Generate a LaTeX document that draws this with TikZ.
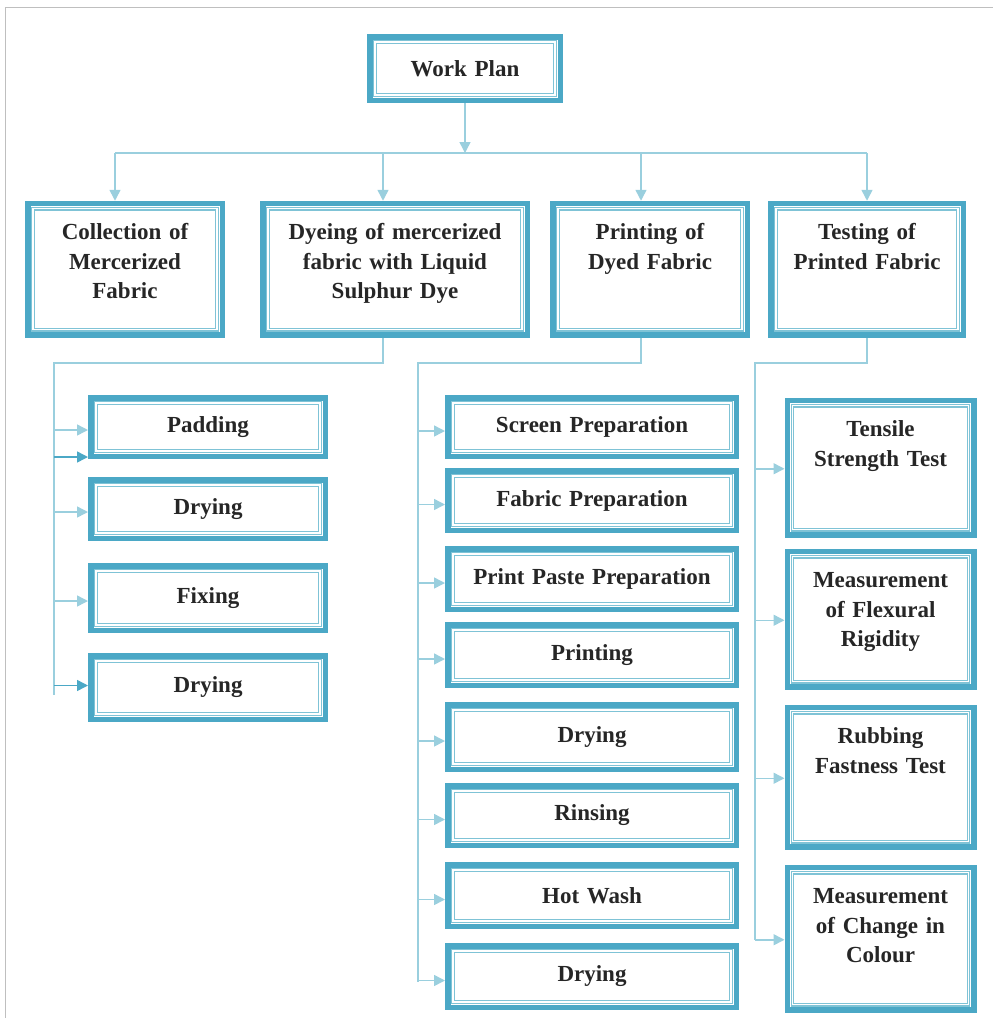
\documentclass[tikz,border=0pt]{standalone}
\usepackage{fontspec}
\setmainfont{Liberation Serif}
\usepackage{tikz}
\usetikzlibrary{arrows.meta,positioning}

\definecolor{boxteal}{HTML}{4BA8C6}
\definecolor{boxlight}{HTML}{7FC3D6}
\definecolor{linelight}{HTML}{9ACFDE}
\definecolor{linedark}{HTML}{4BA8C6}

\tikzset{
  box/.style={draw=boxteal, line width=5.5pt, fill=white, inner sep=0pt,
    align=center, text width=#1-5.5pt, text=black!85,
    font=\bfseries\fontsize{23}{29.5}\selectfont,
    path picture={\draw[boxlight, line width=1.2pt, double=white, double distance=1.3pt]
      ([shift={(5.2pt,-5.2pt)}]path picture bounding box.north west) rectangle
      ([shift={(-5.2pt,5.2pt)}]path picture bounding box.south east);}},
  single/.style={minimum height=#1-5.5pt},
  tallbox/.style 2 args={box=#1, anchor=north, yshift=-2.75pt,
    text height=36.25pt, text depth=#2},
  conn/.style={draw=linelight, line width=1.5pt},
  arr/.style={conn, -{Triangle[length=11pt,width=11pt]}},
  arrdark/.style={arr, draw=linedark}
}

\begin{document}
\begin{tikzpicture}[x=1pt,y=-1pt]
  \useasboundingbox (0,0) rectangle (993,1018);
  \draw[black!25, line width=1pt] (5,1018) -- (5,7) -- (993,7);

  \node[box=196pt, single=69pt] (plan) at (465,68.5) {Work Plan};

  \node[tallbox={200pt}{95.25pt}] (collect) at (125,198) {Collection of\\Mercerized\\Fabric};
  \node[tallbox={270pt}{95.25pt}] (dye) at (395,198) {Dyeing of mercerized\\fabric with Liquid\\Sulphur Dye};
  \node[tallbox={200pt}{95.25pt}] (print) at (650,198) {Printing of\\Dyed Fabric};
  \node[tallbox={198pt}{95.25pt}] (test) at (867,198) {Testing of\\Printed Fabric};

  \node[box=240pt, single=64pt] (pad) at (208,427) {Padding};
  \node[box=240pt, single=64pt] (dry1) at (208,509) {Drying};
  \node[box=240pt, single=70pt] (fix) at (208,598) {Fixing};
  \node[box=240pt, single=69pt] (dry2) at (208,687.5) {Drying};

  \node[box=294pt, single=64pt] (screen) at (592,427) {Screen Preparation};
  \node[box=294pt, single=65pt] (fabprep) at (592,500.5) {Fabric Preparation};
  \node[box=294pt, single=66pt] (paste) at (592,579) {Print Paste Preparation};
  \node[box=294pt, single=66pt] (printing) at (592,655) {Printing};
  \node[box=294pt, single=70pt] (dry3) at (592,737) {Drying};
  \node[box=294pt, single=65pt] (rinse) at (592,815.5) {Rinsing};
  \node[box=294pt, single=67pt] (hotwash) at (592,895.5) {Hot Wash};
  \node[box=294pt, single=67pt] (dry4) at (592,976.5) {Drying};

  \node[tallbox={192pt}{98.25pt}] (tensile) at (880.5,395) {Tensile\\Strength Test};
  \node[tallbox={192pt}{99.25pt}] (flex) at (880.5,546) {Measurement\\of Flexural\\Rigidity};
  \node[tallbox={192pt}{103.25pt}] (rub) at (880.5,702) {Rubbing\\Fastness Test};
  \node[tallbox={192pt}{106.25pt}] (colour) at (880.5,862) {Measurement\\of Change in\\Colour};

  \coordinate (hub) at (465,153);
  \coordinate (dyebus) at (54,363);
  \coordinate (printbus) at (418,363);
  \coordinate (testbus) at (755,363);

  \draw[arr] (plan.south) -- (plan.south |- hub);
  \draw[conn] ([xshift=-10pt]collect.north |- hub) -- (test.north |- hub);
  \draw[arr] ([xshift=-10pt]collect.north |- hub) -- ([xshift=-10pt]collect.north);
  \draw[arr] ([xshift=-12pt]dye.north |- hub) -- ([xshift=-12pt]dye.north);
  \draw[arr] ([xshift=-9pt]print.north |- hub) -- ([xshift=-9pt]print.north);
  \draw[arr] (test.north |- hub) -- (test.north);

  \draw[conn] ([xshift=-12pt]dye.south) |- (dyebus) -- ([yshift=-7pt]dyebus |- dry2.west);
  \foreach \n in {pad,dry1,fix}
    \draw[arr] ([yshift=-3pt]dyebus |- \n.west) -- ([yshift=-3pt]\n.west);
  \draw[arrdark] ([yshift=2pt]dyebus |- pad.south west) -- ([yshift=2pt]pad.south west);
  \draw[arrdark] ([yshift=2pt]dyebus |- dry2.west) -- ([yshift=2pt]dry2.west);

  \draw[conn] ([xshift=-9pt]print.south) |- (printbus) -- ([yshift=-5pt]printbus |- dry4.west);
  \foreach \n in {screen,fabprep,paste,printing,dry3,rinse,hotwash,dry4}
    \draw[arr] ([yshift=-4pt]printbus |- \n.west) -- ([yshift=-4pt]\n.west);

  \draw[conn] (test.south) |- (testbus) -- ([yshift=-1pt]testbus |- colour.west);
  \foreach \n in {tensile,flex,rub,colour}
    \draw[arr] ([yshift=-1pt]testbus |- \n.west) -- ([yshift=-1pt]\n.west);
\end{tikzpicture}
\end{document}
